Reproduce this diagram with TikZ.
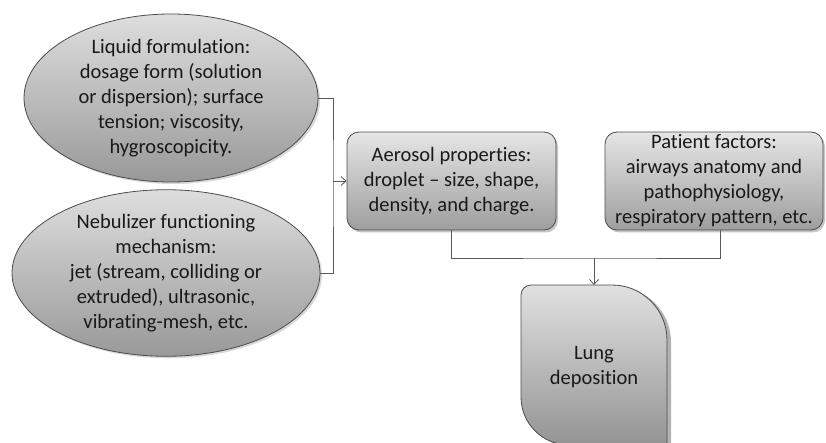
\documentclass[tikz,border=0pt]{standalone}
\usepackage{fontspec}
\setmainfont{Carlito}[Ligatures=NoCommon]
\usetikzlibrary{shapes.geometric,shadows,arrows.meta}
\tikzset{
  every node/.style={font=\fontsize{20.5}{25}\selectfont, text=black!90},
  oval/.style={ellipse, draw=black!70, line width=0.8pt, top color=black!13, bottom color=black!40,
    inner sep=0pt, align=center, drop shadow={opacity=0.3, shadow xshift=2pt, shadow yshift=-2pt}},
  rbox/.style={rectangle, rounded corners=12pt, draw=black!70, line width=0.8pt, top color=black!10,
    bottom color=black!38, inner sep=0pt, align=center, minimum height=98pt,
    drop shadow={opacity=0.45, shadow xshift=2pt, shadow yshift=-2.5pt}},
  conn/.style={draw=black!65, line width=0.8pt},
  arr/.style={conn, -{Straight Barb[length=5pt,width=9pt]}}
}
\begin{document}
\begin{tikzpicture}[x=1pt,y=-1pt]
\useasboundingbox (0,0) rectangle (826,443);
\node[oval, minimum width=294pt, minimum height=168pt] (e1) at (171,98)
  {Liquid formulation:\\dosage form (solution\\or dispersion); surface\\tension; viscosity,\\hygroscopicity.};
\node[oval, minimum width=308pt, minimum height=166pt] (e2) at (166,273)
  {Nebulizer functioning\\mechanism:\\jet (stream, colliding or\\extruded), ultrasonic,\\vibrating-mesh, etc.};
\node[rbox, minimum width=209pt] (b1) at (451.5,181) {Aerosol properties:\\droplet -- size, shape,\\density, and charge.};
\node[rbox, minimum width=218pt] (b2) at (714,181) {Patient factors:\\airways anatomy and\\pathophysiology,\\respiratory pattern, etc.};
% lung deposition shape
\fill[black, opacity=0.3] (523,297) -- (523,398) arc[start angle=180, end angle=90, radius=48] -- (671,447) -- (671,342)
  arc[start angle=0, end angle=-90, radius=55] -- (533,287) arc[start angle=-90, end angle=-180, radius=10] -- cycle;
\path[draw=black!70, line width=0.8pt, top color=black!12, bottom color=black!42]
  (521,295) -- (521,397) arc[start angle=180, end angle=90, radius=48] -- (667,445) -- (667,340)
  arc[start angle=0, end angle=-90, radius=55] -- (531,285) arc[start angle=-90, end angle=-180, radius=10] -- cycle;
\coordinate (lungtop) at (594,285);
\node[align=center] (lung) at (594,367) {Lung\\deposition};
% connectors
\coordinate (j1) at (333,181);
\draw[conn] (e1.east) -| (j1) |- (e2.east);
\draw[arr] (j1) -- (b1.west);
\coordinate (j2) at (594,258);
\coordinate (b2s) at (720,230);
\draw[conn] (b1.south) |- (j2) -| (b2s);
\draw[arr] (j2) -- (lungtop);
\end{tikzpicture}
\end{document}
